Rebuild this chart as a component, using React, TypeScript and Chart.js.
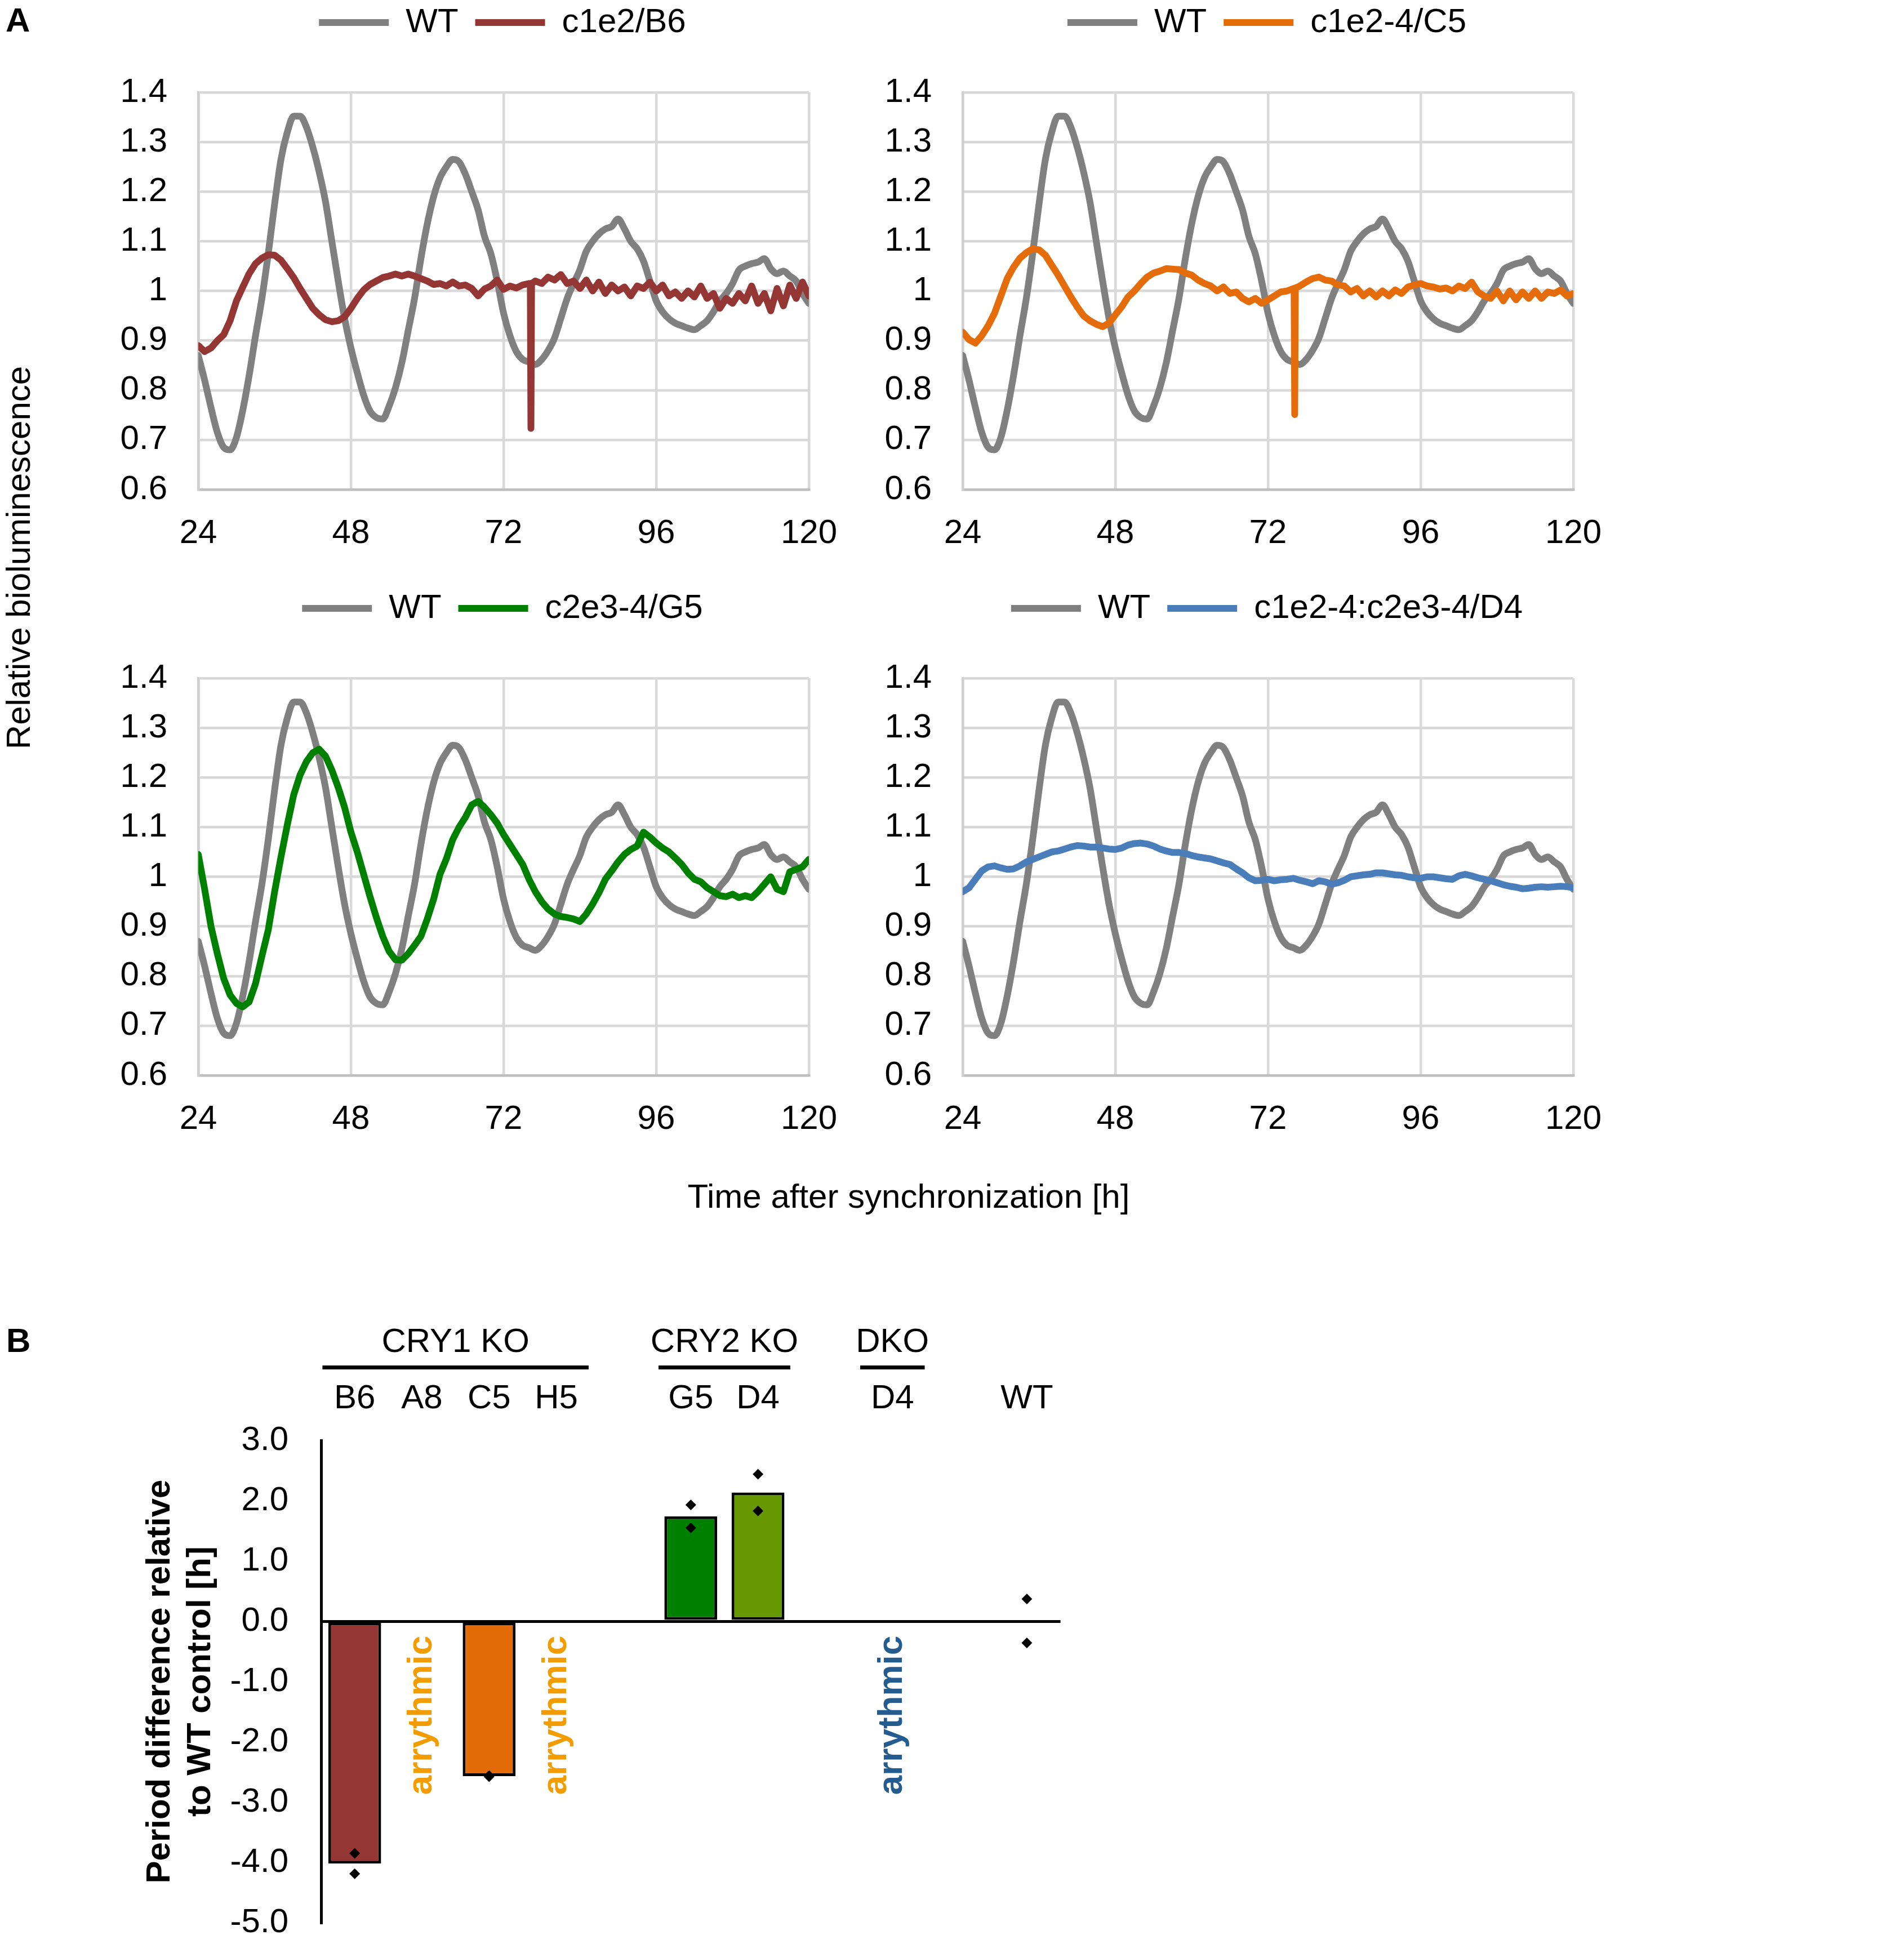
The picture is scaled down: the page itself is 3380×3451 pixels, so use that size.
import { useEffect, useRef } from 'react';
import { Chart, registerables } from 'chart.js';

Chart.register(...registerables);

const FONT = "'Liberation Sans', Arial, sans-serif";
Chart.defaults.font.family = FONT;
Chart.defaults.font.size = 60;
Chart.defaults.color = '#000';

// sampling grid of the bioluminescence traces [h]
const HOURS = [
  24, 25, 26, 27, 28, 29,
  30, 31, 32, 33, 34, 35, 36, 37, 38, 39,
  40, 41, 42, 43, 44, 45, 46, 47, 48, 49,
  50, 51, 52, 53, 54, 55, 56, 57, 58, 59,
  60, 61, 62, 63, 64, 65, 66, 67, 68, 69,
  70, 71, 72, 73, 74, 75, 76, 77, 78, 79,
  80, 81, 82, 83, 84, 85, 86, 87, 88, 89,
  90, 91, 92, 93, 94, 95, 96, 97, 98, 99,
  100, 101, 102, 103, 104, 105, 106, 107, 108, 109,
  110, 111, 112, 113, 114, 115, 116, 117, 118, 119,
  120,
];

const WT = [
  0.870, 0.820, 0.765, 0.715, 0.685, 0.680,
  0.705, 0.760, 0.830, 0.910, 0.985, 1.075, 1.175, 1.265, 1.320, 1.352,
  1.352, 1.330, 1.290, 1.240, 1.180, 1.100, 1.020, 0.945, 0.885, 0.835,
  0.790, 0.758, 0.745, 0.742, 0.768, 0.805, 0.855, 0.920, 0.985, 1.065,
  1.135, 1.190, 1.228, 1.250, 1.265, 1.260, 1.235, 1.200, 1.163, 1.110,
  1.075, 1.020, 0.955, 0.910, 0.878, 0.862, 0.857, 0.852, 0.862, 0.880,
  0.905, 0.945, 0.985, 1.015, 1.043, 1.080, 1.100, 1.115, 1.125, 1.130,
  1.145, 1.125, 1.100, 1.085, 1.060, 1.020, 0.980, 0.958, 0.944, 0.935,
  0.930, 0.925, 0.922, 0.930, 0.940, 0.958, 0.980, 0.995, 1.015, 1.042,
  1.050, 1.055, 1.058, 1.065, 1.045, 1.035, 1.040, 1.030, 1.020, 0.995,
  0.975,
];

const B6 = [
  0.890, 0.878, 0.885, 0.900, 0.912, 0.940,
  0.980, 1.008, 1.035, 1.055, 1.066, 1.073, 1.072, 1.062, 1.045, 1.027,
  1.005, 0.985, 0.965, 0.952, 0.942, 0.938, 0.940, 0.948, 0.965, 0.985,
  1.002, 1.013, 1.020, 1.027, 1.030, 1.034, 1.030, 1.034, 1.030, 1.025,
  1.020, 1.013, 1.015, 1.010, 1.018, 1.010, 1.012, 1.005, 0.990, 1.004,
  1.010, 1.022, 1.003, 1.010, 1.006, 1.012, 1.015, 1.020, 1.015, 1.028,
  1.022, 1.033, 1.015, 1.020, 1.005, 1.022, 1.000, 1.018, 0.995, 1.012,
  1.000, 1.008, 0.990, 1.010, 1.005, 1.018, 1.000, 1.012, 0.990, 0.998,
  0.985, 1.000, 0.988, 1.010, 0.985, 0.995, 0.965, 0.985, 0.975, 0.995,
  0.980, 1.010, 0.975, 0.995, 0.960, 1.005, 0.970, 1.012, 0.985, 1.018,
  0.990,
];
const B6_SPIKE_T = [76.2, 76.3, 76.4];
const B6_SPIKE_V = [1.015, 0.723, 1.015];

const C5 = [
  0.917, 0.902, 0.895, 0.910, 0.930, 0.955,
  0.990, 1.025, 1.048, 1.066, 1.077, 1.085, 1.083, 1.072, 1.052, 1.032,
  1.010, 0.988, 0.968, 0.950, 0.940, 0.933, 0.928, 0.935, 0.952, 0.968,
  0.988, 1.000, 1.015, 1.028, 1.036, 1.040, 1.045, 1.044, 1.043, 1.036,
  1.032, 1.022, 1.015, 1.010, 1.000, 1.008, 0.995, 0.998, 0.985, 0.978,
  0.985, 0.975, 0.982, 0.990, 0.998, 1.000, 1.005, 1.010, 1.018, 1.025,
  1.028, 1.022, 1.020, 1.012, 1.010, 0.998, 1.005, 0.990, 1.000, 0.988,
  1.000, 0.990, 1.002, 0.995, 1.008, 1.012, 1.015, 1.010, 1.008, 1.004,
  1.006, 1.000, 1.010, 1.005, 1.018, 0.998, 0.990, 0.985, 1.000, 0.980,
  1.000, 0.982, 0.998, 0.985, 1.000, 0.985, 0.998, 0.995, 1.002, 0.990,
  0.995,
];
const C5_SPIKE_T = [76.1, 76.2, 76.3];
const C5_SPIKE_V = [1.005, 0.751, 1.006];

const G5 = [
  1.045, 0.975, 0.900, 0.845, 0.795, 0.762,
  0.745, 0.738, 0.748, 0.785, 0.840, 0.893, 0.970, 1.040, 1.105, 1.165,
  1.205, 1.232, 1.250, 1.257, 1.243, 1.215, 1.180, 1.140, 1.090, 1.050,
  1.005, 0.960, 0.918, 0.880, 0.850, 0.833, 0.832, 0.845, 0.862, 0.880,
  0.915, 0.955, 1.005, 1.036, 1.075, 1.100, 1.120, 1.145, 1.152, 1.140,
  1.125, 1.108, 1.085, 1.065, 1.045, 1.025, 0.995, 0.970, 0.950, 0.935,
  0.925, 0.920, 0.918, 0.915, 0.910, 0.925, 0.945, 0.968, 0.995, 1.012,
  1.030, 1.045, 1.055, 1.062, 1.090, 1.080, 1.068, 1.058, 1.050, 1.038,
  1.025, 1.008, 0.995, 0.990, 0.978, 0.970, 0.962, 0.960, 0.965, 0.958,
  0.962, 0.958, 0.970, 0.985, 1.000, 0.975, 0.970, 1.010, 1.015, 1.020,
  1.035,
];

const DKO = [
  0.970, 0.978, 0.995, 1.012, 1.020, 1.022,
  1.018, 1.015, 1.016, 1.022, 1.030, 1.035, 1.040, 1.045, 1.050, 1.052,
  1.056, 1.060, 1.063, 1.062, 1.060, 1.060, 1.058, 1.056, 1.055, 1.058,
  1.064, 1.067, 1.068, 1.066, 1.062, 1.056, 1.052, 1.049, 1.049, 1.047,
  1.043, 1.040, 1.038, 1.036, 1.032, 1.028, 1.025, 1.016, 1.008, 0.998,
  0.992, 0.993, 0.995, 0.992, 0.994, 0.995, 0.997, 0.993, 0.990, 0.986,
  0.992, 0.990, 0.985, 0.988, 0.993, 1.000, 1.002, 1.004, 1.005, 1.008,
  1.008, 1.006, 1.004, 1.003, 1.000, 0.998, 0.997, 1.000, 1.000, 0.998,
  0.996, 0.995, 1.002, 1.005, 1.002, 0.998, 0.995, 0.992, 0.988, 0.984,
  0.981, 0.979, 0.976, 0.977, 0.979, 0.980, 0.979, 0.980, 0.981, 0.980,
  0.978,
];

// panel B: period difference to WT
const BAR_CATS = ['B6', 'A8', 'C5', 'H5', '', 'G5', 'D4', '', 'D4', '', 'WT'];
const BAR_MEANS = [-4.02, null, -2.57, null, null, 1.74, 2.135, null, null, null, null];
const BAR_COLORS = ['#943634', '', '#E36C09', '', '', '#008000', '#669900', '', '', '', ''];
const REP_A = [-3.85, null, -2.56, null, null, 1.93, 2.44, null, null, null, 0.37];
const REP_B = [-4.19, null, -2.58, null, null, 1.55, 1.83, null, null, null, -0.36];
const GROUP_LABELS = ['CRY1 KO', 'CRY2 KO', 'DKO'];
const GROUP_FROM = [0, 5, 8];
const GROUP_TO = [3, 6, 8];
const ARR_INDEX = [1, 3, 8];
const ARR_COLORS = ['#F39C00', '#F39C00', '#245C8F'];

const WT_COLOR = '#808080';
const PANEL_W = 1328;
const PANEL_H = 1029;

// pushes the plot area down below the legend and centres the legend like the original
const legendGap = {
  id: 'legendGap',
  afterInit(chart: any, _args: any, opts: any) {
    const legend = chart.legend;
    if (!legend) return;
    const fit = legend.fit;
    legend.fit = function () {
      fit.call(this);
      this.height += opts.extra || 0;
    };
  },
  afterLayout(chart: any, _args: any, opts: any) {
    const legend = chart.legend;
    if (!legend) return;
    legend.left += opts.shift || 0;
    legend.right += opts.shift || 0;
  },
};

interface TraceProps {
  label: string;
  values: number[];
  color: string;
  spikeT?: number[];
  spikeV?: number[];
  left: number;
  top: number;
}

function TracePanel({ label, values, color, spikeT = [], spikeV = [], left, top }: TraceProps) {
  const ref = useRef<HTMLCanvasElement>(null);

  useEffect(() => {
    if (!ref.current) return;
    const wt = HOURS.map((h, i) => ({ x: h, y: WT[i] }));
    const mutant = HOURS.map((h, i) => ({ x: h, y: values[i] }))
      .concat(spikeT.map((t, i) => ({ x: t, y: spikeV[i] })))
      .sort((a, b) => a.x - b.x);

    const line = {
      borderWidth: 12,
      pointRadius: 0,
      pointHoverRadius: 0,
      borderJoinStyle: 'round' as const,
      borderCapStyle: 'round' as const,
    };

    const chart = new Chart(ref.current, {
      type: 'line',
      data: {
        datasets: [
          {
            label: 'WT', data: wt, borderColor: WT_COLOR, backgroundColor: WT_COLOR, order: 2,
            cubicInterpolationMode: 'monotone', ...line,
          },
          { label, data: mutant, borderColor: color, backgroundColor: color, order: 1, tension: 0, ...line },
        ],
      },
      options: {
        animation: false,
        responsive: false,
        devicePixelRatio: 1,
        plugins: {
          legend: {
            position: 'top',
            labels: {
              usePointStyle: true,
              pointStyle: 'line',
              pointStyleWidth: 124,
              padding: 30,
              color: '#000',
              font: { size: 60 },
              sort: (a: any, b: any) => a.datasetIndex - b.datasetIndex,
            },
          },
          tooltip: { enabled: false },
          legendGap: { extra: 84, shift: 28 },
        } as any,
        scales: {
          x: {
            type: 'linear',
            min: 24,
            max: 120,
            ticks: { stepSize: 24, padding: 42, maxRotation: 0, color: '#000', font: { size: 60 } },
            grid: { color: '#D9D9D9', lineWidth: 4.5, drawTicks: false },
            border: { color: '#BFBFBF', width: 4.5 },
            afterFit: (s: any) => { s.height = 140; },
          },
          y: {
            min: 0.6,
            max: 1.4,
            ticks: {
              stepSize: 0.1,
              padding: 55,
              color: '#000',
              font: { size: 60 },
              callback: (v: any) => String(Number(Number(v).toFixed(1))),
            },
            grid: { color: '#D9D9D9', lineWidth: 4.5, drawTicks: false },
            border: { color: '#CFCFCF', width: 4.5 },
            afterFit: (s: any) => { s.width = 152; },
          },
        },
      },
      plugins: [legendGap],
    });

    return () => chart.destroy();
  }, [label, values, color, spikeT, spikeV]);

  return (
    <canvas
      ref={ref}
      width={PANEL_W}
      height={PANEL_H}
      style={{ position: 'absolute', left, top, width: PANEL_W, height: PANEL_H }}
    />
  );
}

// group headers and "arrythmic" notes, placed with the chart's own scales
const panelBDecor = {
  id: 'panelBDecor',
  afterDraw(chart: any) {
    const { ctx, chartArea, scales } = chart;
    const x = scales.x;
    const y = scales.y;
    const band = x.getPixelForTick(1) - x.getPixelForTick(0);
    ctx.save();
    ctx.fillStyle = '#000';
    ctx.strokeStyle = '#000';
    ctx.font = `60px ${FONT}`;
    ctx.textAlign = 'center';
    ctx.textBaseline = 'middle';
    GROUP_LABELS.forEach((g, i) => {
      const x0 = x.getPixelForTick(GROUP_FROM[i]) - band * 0.48;
      const x1 = x.getPixelForTick(GROUP_TO[i]) + band * 0.48;
      ctx.fillText(g, (x0 + x1) / 2, chartArea.top - 174);
      ctx.lineWidth = 7;
      ctx.beginPath();
      ctx.moveTo(x0, chartArea.top - 129.5);
      ctx.lineTo(x1, chartArea.top - 129.5);
      ctx.stroke();
    });
    ctx.font = `bold 62px ${FONT}`;
    ARR_INDEX.forEach((idx, i) => {
      ctx.save();
      ctx.translate(x.getPixelForTick(idx), y.getPixelForValue(-0.24));
      ctx.rotate(-Math.PI / 2);
      ctx.textAlign = 'right';
      ctx.textBaseline = 'middle';
      ctx.fillStyle = ARR_COLORS[i];
      ctx.fillText('arrythmic', 0, 0);
      ctx.restore();
    });
    ctx.restore();
  },
};

const B_LEFT = 220;
const B_TOP = 2300;
const B_W = 1680;
const B_H = 1207;

function PeriodChart() {
  const ref = useRef<HTMLCanvasElement>(null);

  useEffect(() => {
    if (!ref.current) return;
    const dots = {
      type: 'line' as const,
      showLine: false,
      pointStyle: 'rectRot' as const,
      pointRadius: 9.5,
      pointHoverRadius: 9.5,
      backgroundColor: '#000',
      borderColor: '#000',
      borderWidth: 0,
      order: 0,
    };
    const chart = new Chart(ref.current, {
      type: 'bar',
      data: {
        labels: BAR_CATS,
        datasets: [
          {
            type: 'bar',
            label: 'mean',
            data: BAR_MEANS,
            backgroundColor: BAR_COLORS,
            borderColor: '#000',
            borderWidth: 5,
            borderSkipped: false,
            barPercentage: 0.786,
            categoryPercentage: 1,
            order: 1,
          },
          { label: 'rep 1', data: REP_A, ...dots },
          { label: 'rep 2', data: REP_B, ...dots },
        ] as any,
      },
      options: {
        animation: false,
        responsive: false,
        devicePixelRatio: 1,
        plugins: { legend: { display: false }, tooltip: { enabled: false } },
        scales: {
          x: {
            position: 'top',
            ticks: { padding: 30, maxRotation: 0, autoSkip: false, color: '#000', font: { size: 60 } },
            grid: { display: false },
            border: { display: false },
            afterFit: (s: any) => { s.height = 257; },
          },
          y: {
            min: -5,
            max: 3,
            ticks: {
              stepSize: 1,
              padding: 58,
              color: '#000',
              font: { size: 60 },
              callback: (v: any) => Number(v).toFixed(1),
            },
            grid: {
              drawTicks: false,
              lineWidth: 5,
              color: (c: any) => (c.tick && c.tick.value === 0 ? '#000' : 'rgba(0,0,0,0)'),
            },
            border: { color: '#000', width: 5 },
            title: {
              display: true,
              text: ['Period difference relative', 'to WT control [h]'],
              color: '#000',
              font: { size: 60, weight: 'bold' },
              padding: { top: 28, bottom: 0 },
            },
            afterFit: (s: any) => { s.width = 350; },
          },
        },
      },
      plugins: [panelBDecor],
    });
    return () => chart.destroy();
  }, []);

  return (
    <canvas
      ref={ref}
      width={B_W}
      height={B_H}
      style={{ position: 'absolute', left: B_LEFT, top: B_TOP, width: B_W, height: B_H }}
    />
  );
}

const text: React.CSSProperties = {
  position: 'absolute',
  fontFamily: FONT,
  fontSize: 60,
  lineHeight: '60px',
  color: '#000',
  whiteSpace: 'nowrap',
};

export default function App() {
  return (
    <div style={{ position: 'absolute', left: 0, top: 0, width: 3380, height: 3451, overflow: 'hidden', background: '#fff' }}>
      <div style={{ ...text, left: 10, top: 6, fontWeight: 'bold' }}>A</div>
      <div style={{ ...text, left: 11, top: 2350, fontWeight: 'bold' }}>B</div>

      <TracePanel label="c1e2/B6" values={B6} color="#943634" spikeT={B6_SPIKE_T} spikeV={B6_SPIKE_V} left={200} top={-20} />
      <TracePanel label="c1e2-4/C5" values={C5} color="#E46C0A" spikeT={C5_SPIKE_T} spikeV={C5_SPIKE_V} left={1557} top={-20} />
      <TracePanel label="c2e3-4/G5" values={G5} color="#008000" left={200} top={1020} />
      <TracePanel label="c1e2-4:c2e3-4/D4" values={DKO} color="#4A7EBB" left={1557} top={1020} />

      <div
        style={{
          ...text,
          left: 33 - 500,
          top: 990 - 30,
          width: 1000,
          height: 60,
          textAlign: 'center',
          transform: 'rotate(-90deg)',
        }}
      >
        Relative bioluminescence
      </div>
      <div style={{ ...text, left: 1613, top: 2094, transform: 'translateX(-50%)' }}>
        Time after synchronization [h]
      </div>

      <PeriodChart />
    </div>
  );
}
